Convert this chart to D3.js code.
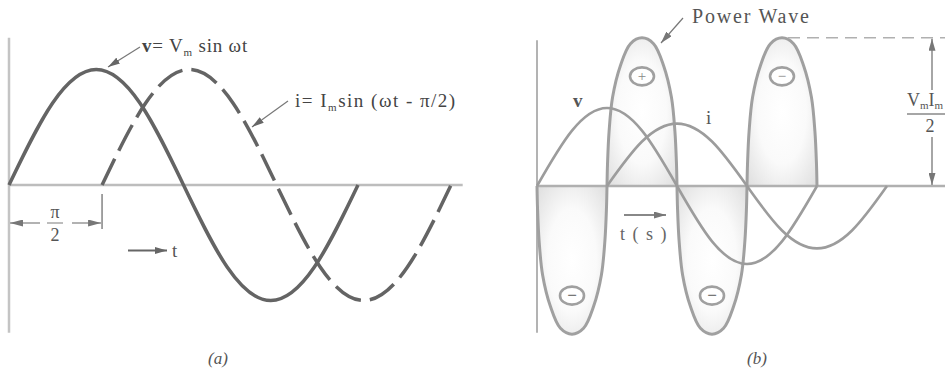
<!DOCTYPE html>
<html><head><meta charset="utf-8">
<script src="https://cdn.jsdelivr.net/npm/d3@7"></script>
<style>
html,body{margin:0;padding:0;background:#fff;}
svg{display:block;}
</style>
</head><body>
<svg id="chart" width="945" height="369" font-family="'Liberation Serif', 'Times New Roman', 'DejaVu Serif', serif"></svg>
<script>
// ---------- data ----------
// phase angle samples (degrees of wt)
const phaseDeg   = [0, 45, 90, 135, 180, 225, 270, 315, 360];
// panel (a): normalised voltage and current
const voltageA   = [0, 0.71, 1, 0.71, 0, -0.71, -1, -0.71, 0];
const currentA   = [0, 0.71, 1, 0.71, 0, -0.71, -1, -0.71, 0];
const currentLagA = 96;           // drawn lag of i in panel (a), ~pi/2
// panel (b): voltage, current, power lobes
const voltageB   = [0, 0.71, 1, 0.71, 0, -0.71, -1, -0.71, 0];
const currentB   = [0, 0.57, 0.8, 0.57, 0, -0.57, -0.8, -0.57, 0];
const currentLagB = 90;
const lobeStart  = [0, 90, 180, 270];
const lobeEnd    = [90, 180, 270, 360];
const lobeSign   = [-1, 1, -1, 1];
const lobeMark   = ["\u2212", "+", "\u2212", "\u2212"];
const powerPeak  = 1.9;
// lobe outline profile (half-width fraction, height fraction)
const lobeProfileW = [-1, -0.985, -0.94, -0.84, -0.62, -0.33, 0, 0.33, 0.62, 0.84, 0.94, 0.985, 1];
const lobeProfileH = [0, 0.15, 0.37, 0.6, 0.81, 0.96, 1, 0.96, 0.81, 0.6, 0.37, 0.15, 0];
const panelLabels = ["(a)", "(b)"];

// ---------- drawing ----------
const svg = d3.select("#chart");
const defs = svg.append("defs");
const SERIF = "'Liberation Serif', 'Times New Roman', 'DejaVu Serif', serif";

function marker(id, color, len, wid) {
  defs.append("marker").attr("id", id)
    .attr("viewBox", `0 0 ${len} ${wid}`)
    .attr("refX", len).attr("refY", wid / 2)
    .attr("markerWidth", len).attr("markerHeight", wid)
    .attr("markerUnits", "userSpaceOnUse")
    .attr("orient", "auto-start-reverse")
    .append("path").attr("d", `M0,0L${len},${wid / 2}L0,${wid}Z`).attr("fill", color);
}
marker("arrA", "#666", 12, 7);
marker("arrDim", "#777", 13, 7);
marker("arrB", "#777", 12, 7);

const grad = defs.append("radialGradient").attr("id", "lobeGrad")
  .attr("cx", 0.5).attr("cy", 0.5).attr("r", 0.7);
grad.append("stop").attr("offset", "0%").attr("stop-color", "#ffffff");
grad.append("stop").attr("offset", "50%").attr("stop-color", "#fafafa");
grad.append("stop").attr("offset", "100%").attr("stop-color", "#dedede");

function txt(g, x, y, size) {
  return g.append("text").attr("x", x).attr("y", y).attr("font-size", size)
    .attr("font-family", SERIF).attr("fill", "#444");
}

// ===== Panel (a) =====
const xA = d3.scaleLinear().domain([0, 360]).range([9, 358]);
const yA = d3.scaleLinear().domain([-1, 1]).range([300.5, 69.5]);
const gA = svg.append("g");

gA.append("line").attr("x1", xA(0)).attr("x2", xA(0)).attr("y1", yA(1.275)).attr("y2", yA(-1.28))
  .attr("stroke", "#c4c4c4").attr("stroke-width", 2.5);
gA.append("line").attr("x1", xA(0)).attr("x2", xA(468)).attr("y1", yA(0)).attr("y2", yA(0))
  .attr("stroke", "#bdbdbd").attr("stroke-width", 2.5);

const lineA = d3.line().x(d => xA(d.a)).y(d => yA(d.v)).curve(d3.curveNatural);
const vPtsA = phaseDeg.map((a, k) => ({a: a, v: voltageA[k]}));
const iPtsA = phaseDeg.map((a, k) => ({a: a + currentLagA, v: currentA[k]}));
gA.append("path").attr("d", lineA(vPtsA)).attr("fill", "none")
  .attr("stroke", "#646464").attr("stroke-width", 3.5);
gA.append("path").attr("d", lineA(iPtsA)).attr("fill", "none")
  .attr("stroke", "#646464").attr("stroke-width", 3.5).attr("stroke-dasharray", "29,9");

// labels with arrows
const tv = txt(gA, 142, 52, 19).attr("letter-spacing", 0.8);
tv.append("tspan").attr("font-weight", "bold").text("v");
tv.append("tspan").text("= V");
tv.append("tspan").attr("font-size", 11).attr("dy", 4).text("m");
tv.append("tspan").attr("dy", -4).text(" sin \u03c9t");
gA.append("line").attr("x1", 140).attr("y1", 47).attr("x2", 108).attr("y2", 67)
  .attr("stroke", "#777").attr("stroke-width", 1.2).attr("marker-end", "url(#arrA)");

const ti = txt(gA, 295, 107, 19).attr("letter-spacing", 1.5);
ti.append("tspan").text("i= I");
ti.append("tspan").attr("font-size", 11).attr("dy", 4).text("m");
ti.append("tspan").attr("dy", -4).text("sin (\u03c9t - \u03c0/2)");
gA.append("line").attr("x1", 288).attr("y1", 101).attr("x2", 252).attr("y2", 127)
  .attr("stroke", "#777").attr("stroke-width", 1.2).attr("marker-end", "url(#arrA)");

// pi/2 dimension
const xLag = xA(currentLagA);
gA.append("line").attr("x1", xLag).attr("x2", xLag).attr("y1", 194).attr("y2", 229)
  .attr("stroke", "#999").attr("stroke-width", 1.8);
gA.append("line").attr("x1", 40).attr("x2", xA(0) + 1).attr("y1", 223).attr("y2", 223)
  .attr("stroke", "#999").attr("stroke-width", 1.5).attr("marker-end", "url(#arrDim)");
gA.append("line").attr("x1", 72).attr("x2", xLag - 1).attr("y1", 223).attr("y2", 223)
  .attr("stroke", "#999").attr("stroke-width", 1.5).attr("marker-end", "url(#arrDim)");
txt(gA, 55, 218, 18).attr("text-anchor", "middle").attr("fill", "#555").text("\u03c0");
gA.append("line").attr("x1", 47).attr("x2", 63).attr("y1", 223).attr("y2", 223)
  .attr("stroke", "#999").attr("stroke-width", 1.3);
txt(gA, 55, 241, 18).attr("text-anchor", "middle").attr("fill", "#555").text("2");
// time arrow
gA.append("line").attr("x1", 128).attr("x2", 167).attr("y1", 250.5).attr("y2", 250.5)
  .attr("stroke", "#666").attr("stroke-width", 2).attr("marker-end", "url(#arrA)");
txt(gA, 172, 257, 19).attr("fill", "#555").text("t");

txt(gA, 218, 364, 17).attr("text-anchor", "middle").attr("font-style", "italic")
  .attr("fill", "#555").text(panelLabels[0]);

// ===== Panel (b) =====
const xB = d3.scaleLinear().domain([0, 360]).range([537, 817]);
const yB = d3.scaleLinear().domain([0, 1]).range([186, 108]);
const gB = svg.append("g");

// lobes
const lobeLine = d3.line().x(d => xB(d.a)).y(d => yB(d.v)).curve(d3.curveCatmullRom.alpha(0.5));
const lobes = lobeStart.map((s, k) => ({start: s, end: lobeEnd[k], sign: lobeSign[k], mark: lobeMark[k]}));
lobes.forEach(L => {
  const mid = (L.start + L.end) / 2, half = (L.end - L.start) / 2;
  const pts = lobeProfileW.map((w, j) => ({a: mid + w * half, v: L.sign * powerPeak * lobeProfileH[j]}));
  gB.append("path").attr("d", lobeLine(pts) + "Z").attr("fill", "url(#lobeGrad)").attr("stroke", "none");
  L.pts = pts; L.mid = mid;
});

// axes
gB.append("line").attr("x1", xB(0)).attr("x2", xB(0)).attr("y1", yB(1.87)).attr("y2", yB(-1.88))
  .attr("stroke", "#9a9a9a").attr("stroke-width", 1.5);
gB.append("line").attr("x1", xB(0)).attr("x2", 945).attr("y1", yB(0)).attr("y2", yB(0))
  .attr("stroke", "#b0b0b0").attr("stroke-width", 2.5);

// lobe outlines
lobes.forEach(L => {
  gB.append("path").attr("d", lobeLine(L.pts)).attr("fill", "none")
    .attr("stroke", "#a0a0a0").attr("stroke-width", 3);
});

// v and i
const lineB = d3.line().x(d => xB(d.a)).y(d => yB(d.v)).curve(d3.curveNatural);
const vPtsB = phaseDeg.map((a, k) => ({a: a, v: voltageB[k]}));
const iPtsB = phaseDeg.map((a, k) => ({a: a + currentLagB, v: currentB[k]}));
gB.append("path").attr("d", lineB(vPtsB)).attr("fill", "none").attr("stroke", "#9c9c9c").attr("stroke-width", 2.6);
gB.append("path").attr("d", lineB(iPtsB)).attr("fill", "none").attr("stroke", "#9c9c9c").attr("stroke-width", 2.6);

// sign markers
lobes.forEach(L => {
  const cx = xB(L.mid), cy = yB(L.sign * powerPeak * 0.74);
  gB.append("ellipse").attr("cx", cx).attr("cy", cy).attr("rx", 12).attr("ry", 9)
    .attr("fill", "#fff").attr("stroke", "#a0a0a0").attr("stroke-width", 2.6);
  const lower = L.sign < 0;
  txt(gB, cx, cy + 5, lower ? 17 : 15).attr("text-anchor", "middle")
    .attr("font-weight", lower ? "bold" : "normal")
    .attr("fill", lower ? "#777" : "#888").text(L.mark);
});

// labels
txt(gB, 573, 107, 19).attr("font-weight", "bold").attr("fill", "#555").text("v");
txt(gB, 706, 124, 19).attr("fill", "#555").text("i");
txt(gB, 692, 23, 20).attr("fill", "#555").attr("letter-spacing", 1.8).text("Power Wave");
gB.append("line").attr("x1", 683).attr("y1", 18).attr("x2", 661).attr("y2", 43)
  .attr("stroke", "#777").attr("stroke-width", 1.2).attr("marker-end", "url(#arrB)");

// t(s)
gB.append("line").attr("x1", 624).attr("x2", 666).attr("y1", 215).attr("y2", 215)
  .attr("stroke", "#888").attr("stroke-width", 1.8).attr("marker-end", "url(#arrB)");
txt(gB, 620, 240, 18).attr("fill", "#666").attr("letter-spacing", 1.5)
  .attr("xml:space", "preserve").text("t ( s )");

// peak dimension
const yTop = yB(powerPeak);
gB.append("line").attr("x1", xB(lobes[3].mid) + 6).attr("x2", 945).attr("y1", yTop).attr("y2", yTop)
  .attr("stroke", "#b0b0b0").attr("stroke-width", 1.5).attr("stroke-dasharray", "12,7");
gB.append("line").attr("x1", 932).attr("x2", 932).attr("y1", 90).attr("y2", yTop + 1)
  .attr("stroke", "#888").attr("stroke-width", 1.5).attr("marker-end", "url(#arrB)");
gB.append("line").attr("x1", 932).attr("x2", 932).attr("y1", 137).attr("y2", yB(0) - 1)
  .attr("stroke", "#888").attr("stroke-width", 1.5).attr("marker-end", "url(#arrB)");
const tp = txt(gB, 907, 106, 18).attr("fill", "#555");
tp.append("tspan").text("V");
tp.append("tspan").attr("font-size", 11).attr("dy", 3).text("m");
tp.append("tspan").attr("dy", -3).text("I");
tp.append("tspan").attr("font-size", 11).attr("dy", 3).text("m");
gB.append("line").attr("x1", 907).attr("x2", 945).attr("y1", 114).attr("y2", 114)
  .attr("stroke", "#888").attr("stroke-width", 1.3);
txt(gB, 930, 132, 18).attr("text-anchor", "middle").attr("fill", "#555").text("2");

txt(gB, 757, 364, 17).attr("text-anchor", "middle").attr("font-style", "italic")
  .attr("fill", "#555").text(panelLabels[1]);
</script>
</body></html>
